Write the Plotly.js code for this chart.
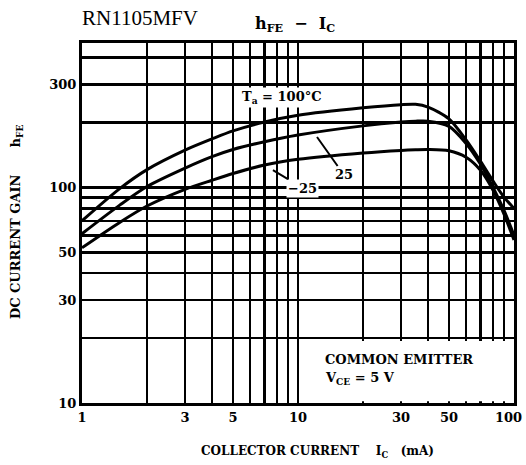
<!DOCTYPE html>
<html>
<head>
<meta charset="utf-8">
<script src="https://cdn.plot.ly/plotly-3.0.1.min.js"></script>
<style>html,body{margin:0;padding:0;background:#fff;}#chart{width:526px;height:465px;}</style>
</head>
<body>
<div id="chart"></div>
<script>
// Collector current (mA)
const ic = [1, 1.5, 2, 3, 4, 5, 7, 10, 20, 30, 35, 40, 50, 60, 70, 80, 90, 100];
// hFE for each ambient temperature
const hfe100 = [70, 99, 121, 149, 168, 183, 201, 216, 234, 242, 243, 236, 208, 166, 132, 107, 90, 80];
const hfe25  = [61, 83, 101, 123, 139, 150, 163, 175, 193, 201, 203, 203, 192, 160, 128, 100, 78, 60];
const hfeM25 = [52.5, 69, 82, 98, 108, 116, 127, 135, 144.5, 148.5, 149.5, 150, 148, 138, 120, 97, 75, 57];

const xTickVals = [1, 3, 5, 10, 30, 50];
const xTickText = ['1', '3', '5', '10', '30', '50'];
const xEndLabel = '100';
const xMinorVals = [2, 4, 6, 7, 8, 9, 20, 40, 60, 70, 80, 90];
const yTickVals = [10, 30, 50, 100, 300];
const yTickText = ['10', '30', '50', '100', '300'];
const yMinorVals = [20, 40, 60, 70, 80, 90, 200, 400];

function bold(size) { return {family: 'DejaVu Serif', size: size, color: '#000', weight: 'bold'}; }

function curve(y) {
  return {x: ic, y: y, type: 'scatter', mode: 'lines',
    line: {color: '#000', width: 3, shape: 'spline', smoothing: 0.8}, hoverinfo: 'skip'};
}
const data = [curve(hfe100), curve(hfe25), curve(hfeM25)];

function axis(range, vals, text, minorVals) {
  return {
    type: 'log', range: range, tickmode: 'array', tickvals: vals, ticktext: text,
    showgrid: true, gridcolor: '#000', gridwidth: 2.5,
    minor: {tickmode: 'array', tickvals: minorVals, showgrid: true, gridcolor: '#000', gridwidth: 2.5, ticks: ''},
    showline: true, linecolor: '#000', linewidth: 3, mirror: true,
    ticks: '', zeroline: false, tickfont: bold(13), fixedrange: true
  };
}

function note(text, x, y, size, extra) {
  return Object.assign({text: text, xref: 'paper', yref: 'paper', x: x, y: y,
    xanchor: 'center', yanchor: 'middle', showarrow: false, font: bold(size)}, extra || {});
}

const layout = {
  width: 526, height: 465,
  margin: {l: 82, r: 12, t: 43, b: 62},
  paper_bgcolor: '#fff', plot_bgcolor: '#fff',
  showlegend: false, hovermode: false,
  xaxis: axis([0, 2], xTickVals, xTickText, xMinorVals),
  yaxis: axis([1, 2.67], yTickVals, yTickText, yMinorVals),
  shapes: [
    {type: 'rect', xref: 'paper', yref: 'paper', x0: 0.505, x1: 0.997, y0: 0.005, y1: 0.172,
     fillcolor: '#fff', line: {width: 0}, layer: 'above'}
  ],
  annotations: [
    note(xEndLabel, 0.988, -0.039, 13),
    note('RN1105MFV', 0.134, 1.069, 21, {font: {family: 'Liberation Serif', size: 21, color: '#000'}}),
    note('h<sub>FE</sub>\u00a0\u00a0\u2212\u00a0\u00a0I<sub>C</sub>', 0.493, 1.05, 16),
    note('COLLECTOR CURRENT\u00a0\u00a0\u00a0\u00a0I<sub>C</sub>\u00a0\u00a0\u00a0(mA)', 0.546, -0.136, 12),
    note('DC CURRENT GAIN\u00a0\u00a0\u00a0\u00a0\u00a0\u00a0h<sub>FE</sub>', -0.150, 0.503, 13, {textangle: -90}),
    note('T<sub>a</sub> = 100\u00b0C', 0.463, 0.85, 13, {bgcolor: '#fff'}),
    note('25', 0.544, 0.739, 13, {showarrow: true, ax: 27, ay: 38, arrowhead: 0, arrowwidth: 2,
      arrowcolor: '#000', bgcolor: '#fff'}),
    note('\u221225', 0.442, 0.647, 13, {showarrow: true, ax: 30, ay: 18, arrowhead: 0, arrowwidth: 2,
      arrowcolor: '#000', bgcolor: '#fff'}),
    note('COMMON EMITTER', 0.559, 0.122, 13, {xanchor: 'left'}),
    note('V<sub>CE</sub> = 5 V', 0.559, 0.067, 13, {xanchor: 'left'})
  ]
};

Plotly.newPlot('chart', data, layout, {displayModeBar: false, staticPlot: true});
</script>
</body>
</html>
